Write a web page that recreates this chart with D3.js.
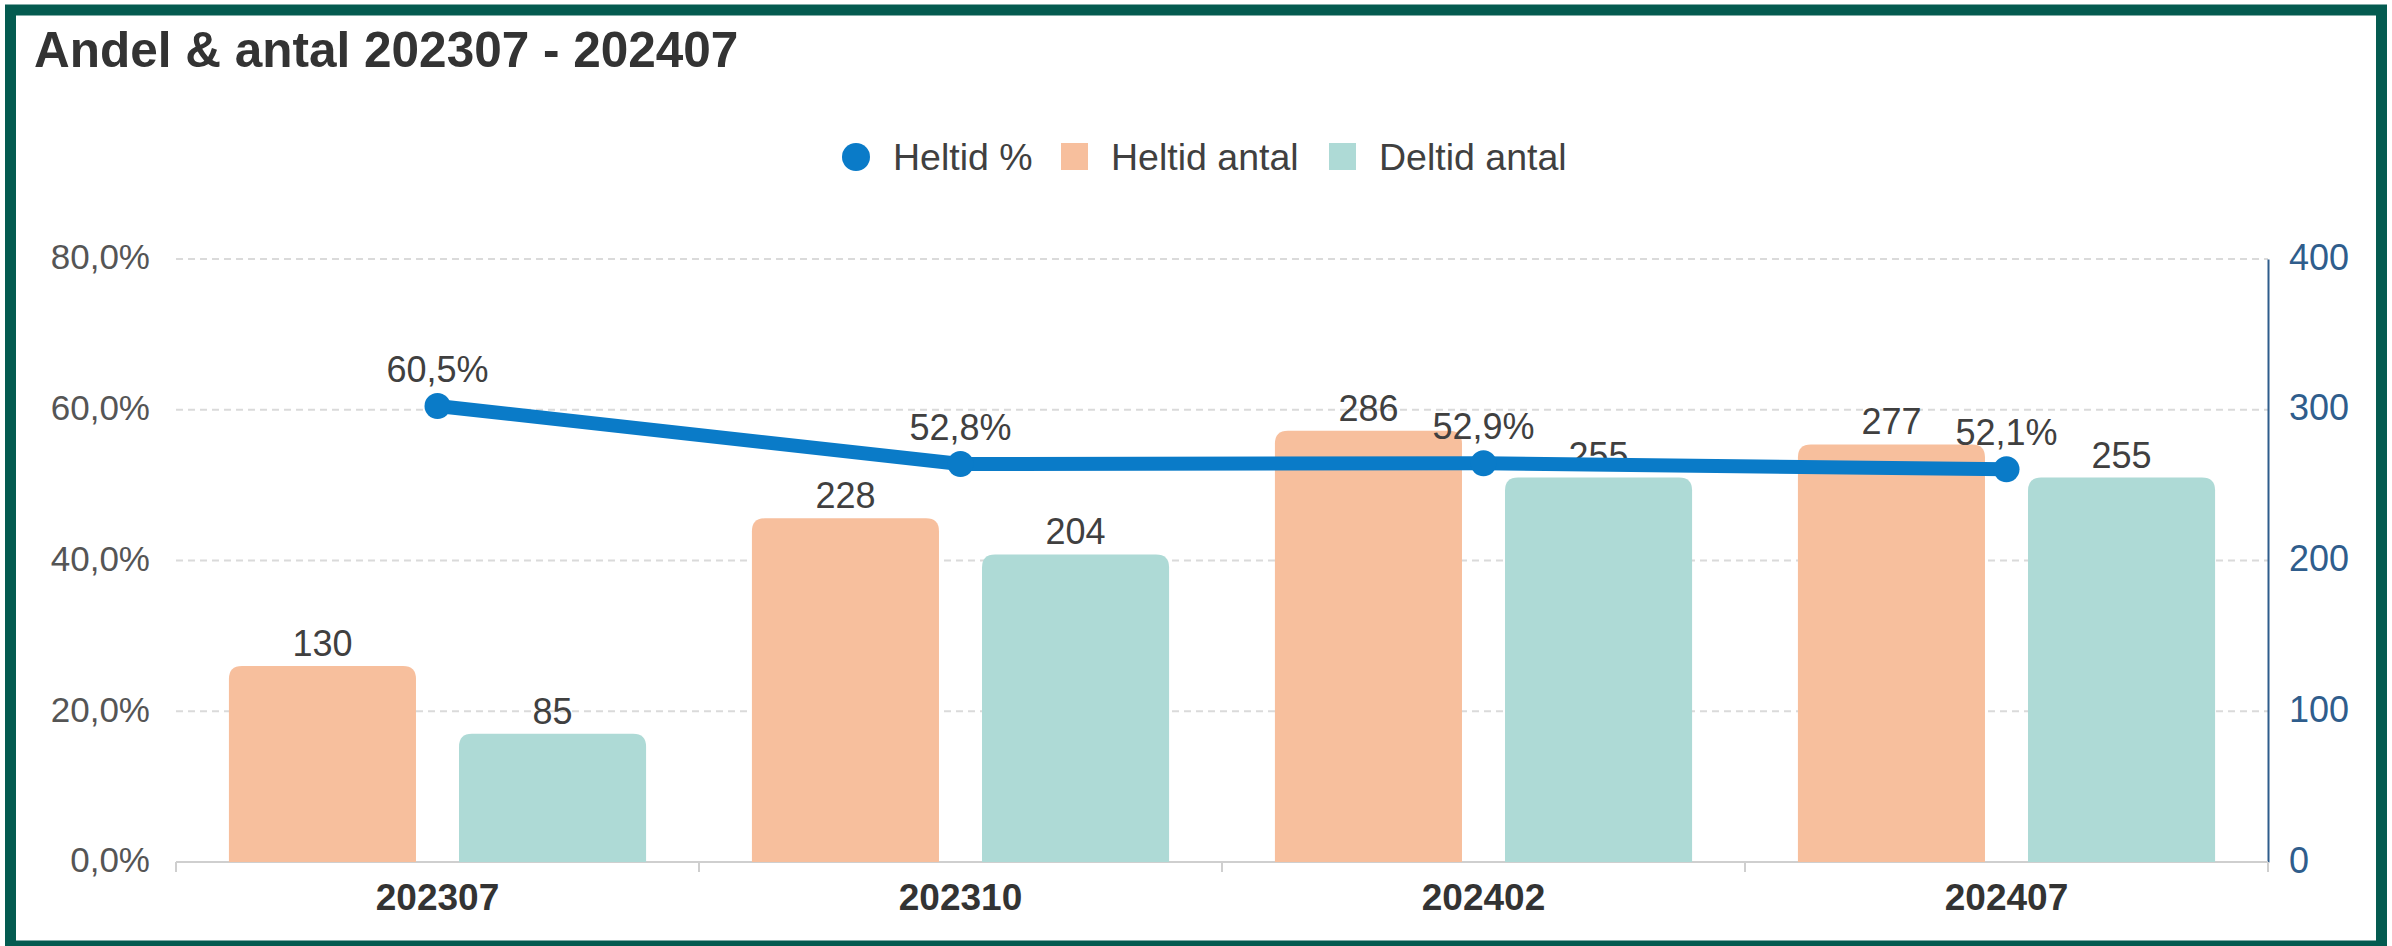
<!DOCTYPE html>
<html>
<head>
<meta charset="utf-8">
<script src="https://cdn.jsdelivr.net/npm/d3@7"></script>
<style>
    body { margin: 0; background: #fff; }
    svg { display: block; font-family: "Liberation Sans", Arial, sans-serif; }
</style>
</head>
<body>
<svg id="chart" width="2392" height="946"></svg>
<script>
"use strict";
// data
var categories = ["202307", "202310", "202402", "202407"];
var heltidAntal = [130, 228, 286, 277];
var deltidAntal = [85, 204, 255, 255];
var heltidPct = [60.5, 52.8, 52.9, 52.1];
var pctTicks = [0, 20, 40, 60, 80];
var countTicks = [0, 100, 200, 300, 400];
var seriesNames = ["Heltid antal", "Deltid antal"];
var seriesColors = ["#f7bf9d", "#aedad6"];
var lineColor = "#0a7bc8";

var svg = d3.select("#chart"),
    width = +svg.attr("width"),
    height = +svg.attr("height");

var plot = { left: 176, right: 2268, top: 259, bottom: 862 };

// frame
svg.append("rect")
    .attr("x", 10.5).attr("y", 10)
    .attr("width", 2371).attr("height", 936)
    .attr("fill", "#fff")
    .attr("stroke", "#045b50")
    .attr("stroke-width", 11);

svg.append("text")
    .attr("x", 34).attr("y", 67)
    .attr("font-size", 49.5).attr("font-weight", "bold")
    .attr("fill", "#333")
    .text("Andel & antal 202307 - 202407");

var x0 = d3.scaleBand().domain(categories).range([plot.left, plot.right]).padding(0);
var x1 = d3.scaleBand().domain(seriesNames).range([0, x0.bandwidth()])
    .paddingInner(0.187).paddingOuter(0.23);
var yPct = d3.scaleLinear().domain([0, 80]).range([plot.bottom, plot.top]);
var yCnt = d3.scaleLinear().domain([0, 400]).range([plot.bottom, plot.top]);

var fmt = function (v, d) { return v.toFixed(d).replace(".", ","); };

// grid
svg.append("g").selectAll("line")
    .data(pctTicks.slice(1))
    .enter().append("line")
    .attr("x1", plot.left).attr("x2", plot.right)
    .attr("y1", function (d) { return yPct(d); })
    .attr("y2", function (d) { return yPct(d); })
    .attr("stroke", "#dadada").attr("stroke-width", 2)
    .attr("stroke-dasharray", "7,5");

// left axis
var leftAxis = svg.append("g")
    .attr("transform", "translate(" + (plot.left - 26) + ",0)")
    .call(d3.axisLeft(yPct).tickValues(pctTicks).tickSize(0).tickPadding(0)
        .tickFormat(function (d) { return fmt(d, 1) + "%"; }));
leftAxis.select(".domain").remove();
leftAxis.selectAll("text")
    .attr("font-size", 35).attr("fill", "#555")
    .attr("font-family", "Liberation Sans, Arial, sans-serif")
    .attr("dy", "0.28em");

// right axis
var rightAxis = svg.append("g")
    .attr("transform", "translate(" + plot.right + ",0)")
    .call(d3.axisRight(yCnt).tickValues(countTicks).tickSize(0).tickPadding(21));
rightAxis.select(".domain").attr("stroke", "#2f5d8c").attr("stroke-width", 2);
rightAxis.selectAll("text")
    .attr("font-size", 36).attr("fill", "#2f5d8c")
    .attr("font-family", "Liberation Sans, Arial, sans-serif")
    .attr("dy", "0.28em");

// bottom axis
svg.append("line")
    .attr("x1", plot.left).attr("x2", plot.right)
    .attr("y1", plot.bottom).attr("y2", plot.bottom)
    .attr("stroke", "#cfcfcf").attr("stroke-width", 2);
var bounds = categories.map(function (c) { return x0(c); }).concat([plot.right]);
svg.append("g").selectAll("line")
    .data(bounds)
    .enter().append("line")
    .attr("x1", function (d) { return d; }).attr("x2", function (d) { return d; })
    .attr("y1", plot.bottom).attr("y2", plot.bottom + 10)
    .attr("stroke", "#cfcfcf").attr("stroke-width", 2);
svg.append("g").selectAll("text")
    .data(categories)
    .enter().append("text")
    .attr("x", function (d) { return x0(d) + x0.bandwidth() / 2; })
    .attr("y", 910)
    .attr("text-anchor", "middle")
    .attr("font-size", 37).attr("font-weight", "bold").attr("fill", "#333")
    .text(function (d) { return d; });

// bars
var barData = [];
categories.forEach(function (c, i) {
    barData.push({ cat: c, s: 0, v: heltidAntal[i] });
    barData.push({ cat: c, s: 1, v: deltidAntal[i] });
});

function topRounded(x, y, w, h, r) {
    r = Math.min(r, h);
    return "M" + x + "," + (y + h) +
        "V" + (y + r) +
        "Q" + x + "," + y + " " + (x + r) + "," + y +
        "H" + (x + w - r) +
        "Q" + (x + w) + "," + y + " " + (x + w) + "," + (y + r) +
        "V" + (y + h) + "Z";
}

svg.append("g").selectAll("path")
    .data(barData)
    .enter().append("path")
    .attr("d", function (d) {
        var bx = x0(d.cat) + x1(seriesNames[d.s]);
        var by = yCnt(d.v);
        return topRounded(bx, by, x1.bandwidth(), plot.bottom - by, 13);
    })
    .attr("fill", function (d) { return seriesColors[d.s]; });

svg.append("g").selectAll("text")
    .data(barData)
    .enter().append("text")
    .attr("x", function (d) { return x0(d.cat) + x1(seriesNames[d.s]) + x1.bandwidth() / 2; })
    .attr("y", function (d) { return yCnt(d.v) - 10; })
    .attr("text-anchor", "middle")
    .attr("font-size", 36).attr("fill", "#404040")
    .text(function (d) { return d.v; });

// line
var cx = function (i) { return x0(categories[i]) + x0.bandwidth() / 2; };
var line = d3.line()
    .x(function (d, i) { return cx(i); })
    .y(function (d) { return yPct(d); });

svg.append("path")
    .datum(heltidPct)
    .attr("d", line)
    .attr("fill", "none")
    .attr("stroke", lineColor).attr("stroke-width", 14)
    .attr("stroke-linejoin", "round");

svg.append("g").selectAll("circle")
    .data(heltidPct)
    .enter().append("circle")
    .attr("cx", function (d, i) { return cx(i); })
    .attr("cy", function (d) { return yPct(d); })
    .attr("r", 13)
    .attr("fill", lineColor);

svg.append("g").selectAll("text")
    .data(heltidPct)
    .enter().append("text")
    .attr("x", function (d, i) { return cx(i); })
    .attr("y", function (d) { return yPct(d) - 24; })
    .attr("text-anchor", "middle")
    .attr("font-size", 36).attr("fill", "#404040")
    .text(function (d) { return fmt(d, 1) + "%"; });

// legend
var legend = svg.append("g");
legend.append("circle").attr("cx", 856).attr("cy", 157).attr("r", 14).attr("fill", lineColor);
legend.append("text").attr("x", 893).attr("y", 170).text("Heltid %");
legend.append("rect").attr("x", 1061).attr("y", 143).attr("width", 27).attr("height", 27)
    .attr("fill", seriesColors[0]);
legend.append("text").attr("x", 1111).attr("y", 170).text(seriesNames[0]);
legend.append("rect").attr("x", 1329).attr("y", 143).attr("width", 27).attr("height", 27)
    .attr("fill", seriesColors[1]);
legend.append("text").attr("x", 1379).attr("y", 170).text(seriesNames[1]);
legend.selectAll("text").attr("font-size", 37.5).attr("fill", "#404040");
</script>
</body>
</html>
